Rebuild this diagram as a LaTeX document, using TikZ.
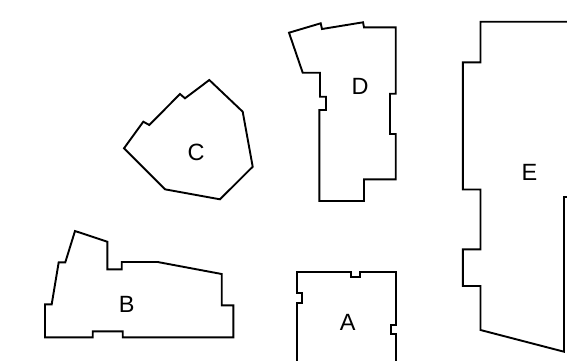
\documentclass[tikz,border=0pt]{standalone}
\usepackage{fontspec}
\setmainfont{Liberation Sans}
\begin{document}
\begin{tikzpicture}[x=1pt,y=-1pt,
  outline/.style={draw=black,line width=1.9pt,line join=miter},
  lbl/.style={font=\fontsize{23.5}{26}\selectfont,inner sep=0pt}]
\useasboundingbox (0,0) rectangle (567,360);
\clip (0,0) rectangle (567,360);
% C
\draw[outline] (209.3,80) -- (242.7,111.7) -- (252.7,166.7) -- (220,199.3) -- (165,189.3)
  -- (124,148.3) -- (143.3,121.7) -- (149.3,125) -- (180,94) -- (185,98.3) -- cycle;
\node[lbl] (C) at (196,152) {C};
% B
\draw[outline] (75,231) -- (107.3,241.7) -- (107.3,269.3) -- (121.7,269.3) -- (121.7,262)
  -- (157.7,262) -- (221.7,274) -- (221.7,305.3) -- (233.3,305.3) -- (233.3,337.3)
  -- (122.7,337.3) -- (122.7,331.3) -- (92.7,331.3) -- (92.7,337.3) -- (45,337.3)
  -- (45,304.3) -- (51.7,304.3) -- (58.7,262.3) -- (65.3,262.3) -- cycle;
\node[lbl] (B) at (126.7,304.7) {B};
% D
\draw[outline] (289,32.7) -- (320.7,23.3) -- (322,29) -- (363,22.3) -- (364,27.3)
  -- (395.7,27.3) -- (395.7,93.7) -- (390,93.7) -- (390,134) -- (395.7,134)
  -- (395.7,179.3) -- (364,179.3) -- (364,201) -- (319.3,201) -- (319.3,110)
  -- (326,110) -- (326,96.7) -- (320,96.7) -- (320,72.7) -- (302.7,72.7) -- cycle;
\node[lbl] (D) at (360,86) {D};
% A
\draw[outline] (297.3,370) -- (297.3,302.7) -- (302.3,302.7) -- (302.3,293.3) -- (297.3,293.3)
  -- (297.3,271.7) -- (351,271.7) -- (351,276.7) -- (360,276.7) -- (360,271.7)
  -- (396,271.7) -- (396,325) -- (391,325) -- (391,334) -- (396,334) -- (396,370);
\node[lbl] (A) at (347.7,322.5) {A};
% E
\draw[outline] (580,21.7) -- (480.5,21.7) -- (480.5,62.3) -- (462.8,62.3) -- (462.8,189.5)
  -- (480.5,189.5) -- (480.5,249.3) -- (462.8,249.3) -- (462.8,286) -- (480.5,286)
  -- (480.5,330) -- (564,351.7) -- (564,197) -- (580,197);
\node[lbl] (E) at (529.5,172.5) {E};
\end{tikzpicture}
\end{document}
